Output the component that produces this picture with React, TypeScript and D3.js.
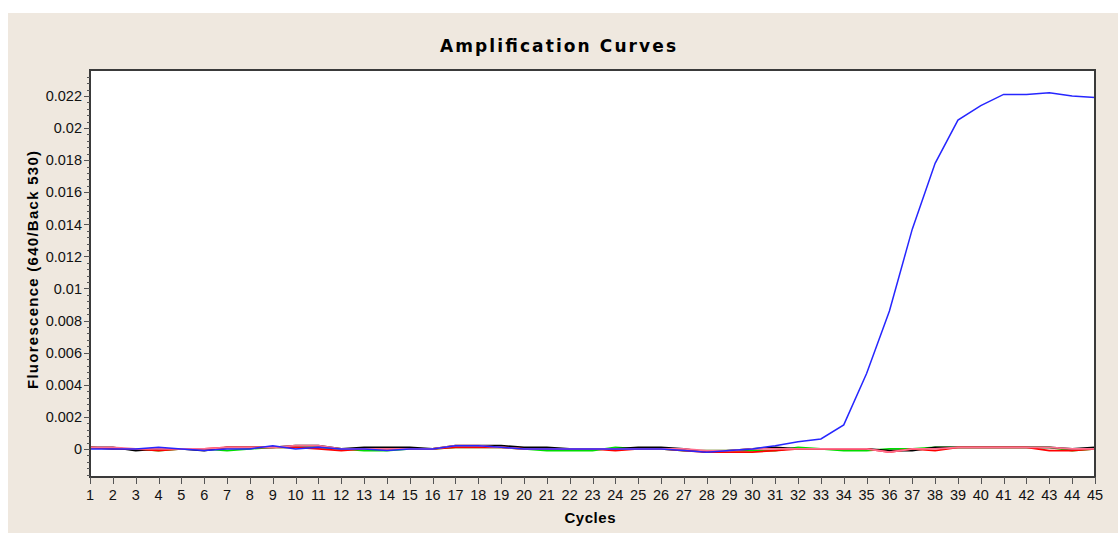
import React, { useEffect, useRef } from 'react';
import * as d3 from 'd3';

// cycle numbers 1..45
const cycles = [
  1, 2, 3, 4, 5, 6, 7, 8, 9, 10, 11, 12, 13, 14, 15, 16, 17, 18, 19, 20, 21, 22, 23,
  24, 25, 26, 27, 28, 29, 30, 31, 32, 33, 34, 35, 36, 37, 38, 39, 40, 41, 42, 43, 44, 45,
];

const blackSeries = [
  0.0001, 0.0001, -0.0001, 0, 0, -0.0001, 0.0001, 0.0001, 0.0001, 0.0002, 0.0002, 0, 0.0001,
  0.0001, 0.0001, 0, 0.0002, 0.0002, 0.0002, 0.0001, 0.0001, 0, 0, 0, 0.0001, 0.0001, 0,
  -0.0002, -0.0001, 0, 0.0001, 0, 0, 0, 0, -0.0001, -0.0001, 0.0001, 0.0001, 0.0001, 0.0001,
  0.0001, 0.0001, 0, 0.0001,
];

const redSeries = [
  0.0001, 0, 0, -0.0001, 0, 0, 0.0001, 0.0001, 0.0001, 0.0001, 0, -0.0001, 0, 0, 0, 0, 0.0001,
  0.0001, 0.0001, 0, 0, 0, 0, -0.0001, 0, 0, -0.0001, -0.0002, -0.0002, -0.0002, -0.0001, 0, 0,
  0, 0, -0.0002, 0, -0.0001, 0.0001, 0.0001, 0.0001, 0.0001, -0.0001, -0.0001, 0,
];

const greenSeries = [
  0.0001, 0, 0, -0.0001, 0, 0, -0.0001, 0, 0.0001, 0.0001, 0.0001, 0, -0.0001, -0.0001, 0, 0,
  0.0001, 0.0001, 0.0001, 0, -0.0001, -0.0001, -0.0001, 0.0001, 0, 0, -0.0001, -0.0001, -0.0001,
  -0.0001, -0.0001, 0.0001, 0, -0.0001, -0.0001, 0, 0, 0.0001, 0.0001, 0.0001, 0.0001, 0.0001,
  0.0001, -0.0001, 0,
];

const pinkSeries = [
  0.0001, 0.0001, 0, 0, 0, 0, 0.0001, 0.0001, 0.0001, 0.0002, 0.0002, 0, 0, 0, 0, 0, 0.0002,
  0.0002, 0.0001, 0, 0, 0, 0, 0, 0, 0, 0, -0.0001, -0.0001, 0, 0, 0, 0, 0, 0, -0.0002, 0, 0,
  0.0001, 0.0001, 0.0001, 0.0001, 0.0001, 0, 0,
];

const blueSeries = [
  0, 0, 0, 0.0001, 0, -0.0001, 0, 0, 0.0002, 0, 0.0001, 0, 0, -0.0001, 0, 0, 0.0002, 0.0002,
  0.0001, 0, 0, 0, 0, 0, 0, 0, -0.0001, -0.0002, -0.0001, 0, 0.0002, 0.00044, 0.00062, 0.0015,
  0.0047, 0.0086, 0.0137, 0.0178, 0.0205, 0.0214, 0.0221, 0.0221, 0.0222, 0.022, 0.0219,
];

const yTicks = [0, 0.002, 0.004, 0.006, 0.008, 0.01, 0.012, 0.014, 0.016, 0.018, 0.02, 0.022];

const series = [
  { name: 'green', color: '#00dd00', values: greenSeries },
  { name: 'black', color: '#000000', values: blackSeries },
  { name: 'red', color: '#ff0000', values: redSeries },
  { name: 'pink', color: '#ff6f8f', values: pinkSeries },
  { name: 'blue', color: '#2626ff', values: blueSeries },
];

const App = () => {
  const ref = useRef<SVGSVGElement>(null);

  useEffect(() => {
    const width = 1118;
    const height = 533;
    const m = { top: 70, right: 23, bottom: 56, left: 90 };

    const svg = d3.select(ref.current);
    svg.selectAll('*').remove();
    svg.attr('width', width).attr('height', height);

    // beige panel
    svg.append('rect')
      .attr('x', 8).attr('y', 13)
      .attr('width', width - 8).attr('height', height - 13)
      .attr('fill', '#efe8df');

    const x = d3.scaleLinear().domain([1, 45]).range([m.left, width - m.right]);
    const y = d3.scaleLinear().domain([-0.00175, 0.02362]).range([height - m.bottom, m.top]);

    svg.append('rect')
      .attr('x', m.left).attr('y', m.top)
      .attr('width', width - m.left - m.right)
      .attr('height', height - m.top - m.bottom)
      .attr('fill', '#ffffff');

    svg.append('clipPath').attr('id', 'plot-clip')
      .append('rect')
      .attr('x', m.left).attr('y', m.top)
      .attr('width', width - m.left - m.right)
      .attr('height', height - m.top - m.bottom);

    const line = d3.line<number>()
      .x((_, i) => x(cycles[i]))
      .y(d => y(d));

    svg.append('g')
      .attr('clip-path', 'url(#plot-clip)')
      .selectAll('path')
      .data(series)
      .join('path')
        .attr('fill', 'none')
        .attr('stroke', d => d.color)
        .attr('stroke-width', d => (d.name === 'blue' ? 1.5 : 1.7))
        .attr('d', d => line(d.values));

    // frame
    svg.append('rect')
      .attr('x', m.left).attr('y', m.top)
      .attr('width', width - m.left - m.right)
      .attr('height', height - m.top - m.bottom)
      .attr('fill', 'none')
      .attr('stroke', '#3a3a3a')
      .attr('stroke-width', 2);

    const font = '"Liberation Sans", Arial, sans-serif';

    // y axis
    const minor = d3.range(-0.0016, 0.0236, 0.0004).filter(v => Math.abs(Math.round(v / 0.002) * 0.002 - v) > 1e-7);
    svg.append('g')
      .selectAll('line')
      .data(minor)
      .join('line')
        .attr('x1', m.left - 3).attr('x2', m.left)
        .attr('y1', d => Math.round(y(d)) + 0.5).attr('y2', d => Math.round(y(d)) + 0.5)
        .attr('stroke', '#555');

    const yAxis = svg.append('g');
    yAxis.selectAll('line')
      .data(yTicks)
      .join('line')
        .attr('x1', m.left - 6).attr('x2', m.left)
        .attr('y1', d => Math.round(y(d)) + 0.5).attr('y2', d => Math.round(y(d)) + 0.5)
        .attr('stroke', '#555');
    yAxis.selectAll('text')
      .data(yTicks)
      .join('text')
        .attr('x', m.left - 8)
        .attr('y', d => y(d))
        .attr('dy', '0.36em')
        .attr('text-anchor', 'end')
        .attr('font-family', font)
        .attr('font-size', 14.5)
        .attr('fill', '#111')
        .text(d => (d === 0 ? '0' : String(+d.toFixed(3))));

    // x axis
    const xAxis = svg.append('g');
    xAxis.selectAll('line')
      .data(cycles)
      .join('line')
        .attr('x1', d => Math.round(x(d)) + 0.5).attr('x2', d => Math.round(x(d)) + 0.5)
        .attr('y1', height - m.bottom).attr('y2', height - m.bottom + 7)
        .attr('stroke', '#555');
    xAxis.selectAll('text')
      .data(cycles)
      .join('text')
        .attr('x', d => x(d))
        .attr('y', height - m.bottom + 23)
        .attr('text-anchor', 'middle')
        .attr('font-family', font)
        .attr('font-size', 14.5)
        .attr('fill', '#111')
        .text(d => d);

    // titles
    svg.append('text')
      .attr('x', 558).attr('y', 52)
      .attr('text-anchor', 'middle')
      .attr('font-family', '"DejaVu Sans", Verdana, sans-serif')
      .attr('font-weight', 'bold')
      .attr('font-size', 17)
      .attr('textLength', 236)
      .attr('lengthAdjust', 'spacing')
      .attr('fill', '#000')
      .text('Amplification Curves');

    svg.append('text')
      .attr('x', 590).attr('y', 523)
      .attr('text-anchor', 'middle')
      .attr('font-family', font)
      .attr('font-weight', 'bold')
      .attr('font-size', 15)
      .attr('textLength', 51)
      .attr('lengthAdjust', 'spacing')
      .attr('fill', '#000')
      .text('Cycles');

    svg.append('text')
      .attr('transform', `translate(38, 270) rotate(-90)`)
      .attr('text-anchor', 'middle')
      .attr('font-family', font)
      .attr('font-weight', 'bold')
      .attr('font-size', 15)
      .attr('textLength', 238)
      .attr('lengthAdjust', 'spacing')
      .attr('fill', '#000')
      .text('Fluorescence (640/Back 530)');
  }, []);

  return (
    <div>
      <svg ref={ref} style={{ position: 'absolute', left: 0, top: 0 }}></svg>
    </div>
  );
};

export default App;
